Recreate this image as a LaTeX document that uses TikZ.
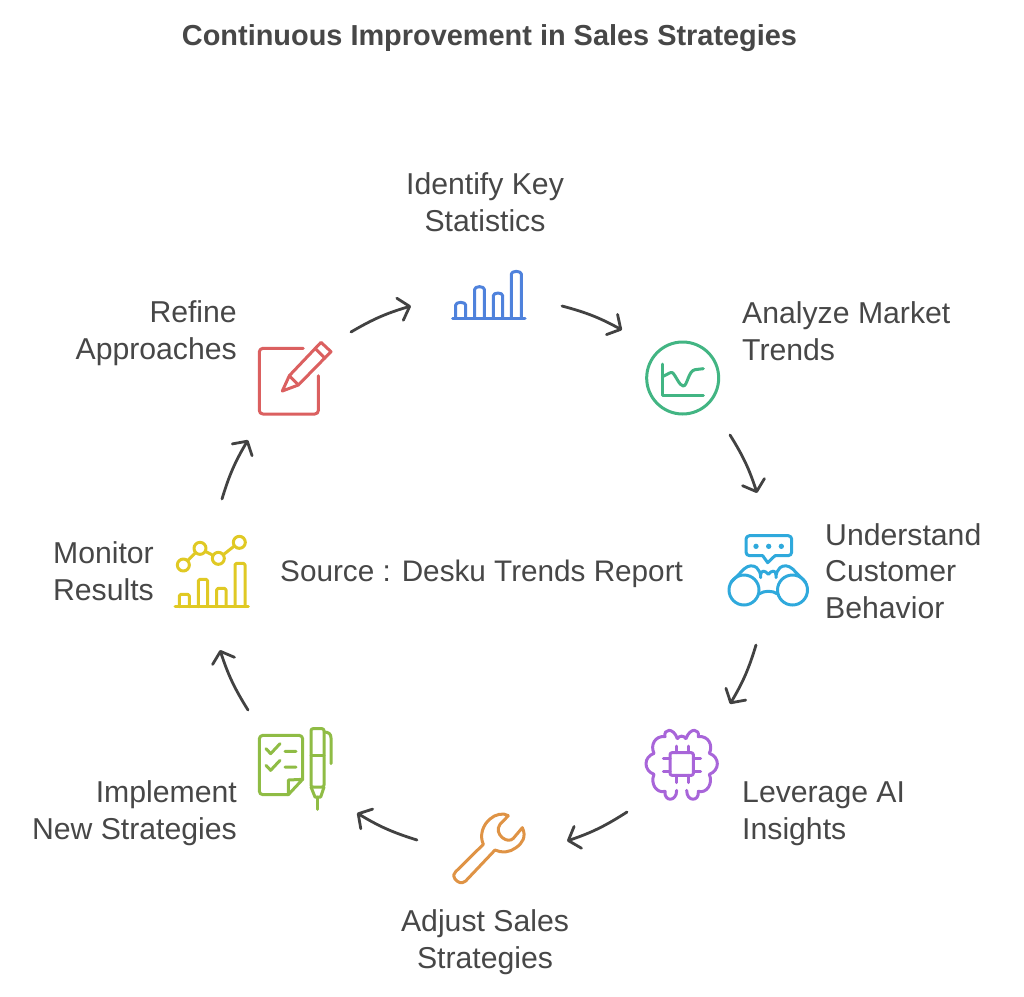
\documentclass[tikz,border=0pt]{standalone}
\usepackage{fontspec}
\setmainfont{Liberation Sans}
\usetikzlibrary{arrows.meta}
\definecolor{ink}{HTML}{474747}
\definecolor{arrowink}{HTML}{424242}
\definecolor{iblue}{HTML}{4F82DC}
\definecolor{igreen}{HTML}{42B583}
\definecolor{icyan}{HTML}{2FA9DC}
\definecolor{ipurple}{HTML}{A865D9}
\definecolor{iorange}{HTML}{DF9345}
\definecolor{ilime}{HTML}{8FBC45}
\definecolor{iyellow}{HTML}{E0C924}
\definecolor{ired}{HTML}{DB6060}
\tikzset{
  lab/.style={text=ink,inner sep=0pt,font=\fontsize{30.2}{36.8}\selectfont},
  srclab/.style={text=ink,inner sep=0pt,font=\fontsize{29.7}{36.8}\selectfont},
  ttl/.style={text=ink,inner sep=0pt,font=\fontsize{28.9}{34}\selectfont\bfseries},
  cyc/.style={draw=arrowink,line width=2.8pt,line cap=round,line join=round,
     -{Straight Barb[length=10pt,width=23pt,line width=2.8pt,round]}},
  ico/.style={line width=3pt,line cap=round,line join=round},
  zoomed/.style={x=0.33333pt,y=-0.33333pt}
}
\begin{document}
\begin{tikzpicture}[x=1pt,y=-1pt]
\useasboundingbox (0,0) rectangle (1024,996);
\node[ttl] (title) at (489.5,38.5) {Continuous Improvement in Sales Strategies};
\node[lab,align=center] (n1) at (485,202) {Identify Key\\Statistics};
\node[lab,align=left,anchor=west] (n2) at (742,331) {Analyze Market\\Trends};
\node[lab,align=left,anchor=west] (n3) at (825,571) {Understand\\Customer\\Behavior};
\node[lab,align=left,anchor=west] (n4) at (742,813.5) {Leverage AI\\Insights};
\node[lab,align=center] (n5) at (485,942) {Adjust Sales\\Strategies};
\node[lab,align=right,anchor=east] (n6) at (237,813.5) {Implement\\New Strategies};
\node[lab,align=right,anchor=east] (n7) at (154,571) {Monitor\\Results};
\node[lab,align=right,anchor=east] (n8) at (237,333.5) {Refine\\Approaches};
\node[srclab,anchor=west] (src) at (280,573.5) {Source : Desku Trends Report};
% connector ends
\coordinate (a1) at (562,306); \coordinate (b1) at (622,330);
\coordinate (a2) at (730,435); \coordinate (b2) at (757,493);
\coordinate (a3) at (756,645); \coordinate (b3) at (730,704);
\coordinate (a4) at (627,812); \coordinate (b4) at (567,841);
\coordinate (a5) at (417,840); \coordinate (b5) at (357,813);
\coordinate (a6) at (248,710); \coordinate (b6) at (220,650);
\coordinate (a7) at (222,499); \coordinate (b7) at (248,440);
\coordinate (a8) at (351,332); \coordinate (b8) at (411,306);
\foreach \i in {1,...,8}{\draw[cyc] (a\i) to[bend left=7] (b\i);}
% bars
\begin{scope}[shift={(440,260)},zoomed,ico,draw=iblue]
\draw (38,174)--(255,174);
\draw (47,174)--(47,135) arc[start angle=180,end angle=0,x radius=15,y radius=-8] --(77,174);
\draw (104,174)--(104,88) arc[start angle=180,end angle=0,x radius=14.5,y radius=-8] --(133,174);
\draw (160,174)--(160,107) arc[start angle=180,end angle=0,x radius=14,y radius=-8] --(188,174);
\draw (214,174)--(214,42) arc[start angle=180,end angle=0,x radius=15,y radius=-8] --(244,174);
\end{scope}
% chart
\begin{scope}[shift={(440,260)},zoomed,ico,draw=igreen]
\draw (728,354) circle[x radius=108,y radius=108];
\draw (667,312)--(667,405)--(790,405);
\draw (667,350)..controls (685,342) and (692,335)..(697,338)..controls (707,345) and (718,378)..(730,378)..controls (742,378) and (745,332)..(765,329)--(790,326);
\end{scope}
% binoculars
\begin{scope}[shift={(720,525)},zoomed,ico,draw=icyan]
\draw[rounded corners=3.5pt] (128,92)--(78,92)--(78,32)--(215,32)--(215,92)--(165,92);
\draw (128,92)--(143,113)--(165,92);
\fill[icyan] (108,64) circle[x radius=8,y radius=8] (146,64) circle[x radius=8,y radius=8] (184,64) circle[x radius=8,y radius=8];
\draw (72,195) circle[x radius=45,y radius=45];
\draw (217.5,195) circle[x radius=45,y radius=45];
\draw (117,207)..controls (132,196) and (158,196)..(173,207);
\draw (33,172)--(72,132)..controls (85,120) and (100,120)..(110,128)..controls (118,135) and (122,145)..(122,158);
\draw (257,172)--(218,132)..controls (205,120) and (190,120)..(180,128)..controls (172,135) and (168,145)..(168,158);
\draw (122,150)..controls (122,135) and (135,135)..(145,148)..controls (155,135) and (168,135)..(168,150);
\end{scope}
% brain
\begin{scope}[shift={(640,722)},zoomed,ico,draw=ipurple]
\draw[rounded corners=2pt] (90,92) rectangle (160,160);
\draw (110,72)--(110,92) (145,72)--(145,92) (110,160)--(110,182) (145,160)--(145,182);
\draw (70,110)--(90,110) (70,147)--(90,147) (160,110)--(182,110) (160,147)--(182,147);
\draw (112,50)..controls (100,15) and (70,20)..(75,44)
      ..controls (45,40) and (30,70)..(42,94)
      ..controls (10,105) and (10,145)..(42,157)
      ..controls (30,185) and (50,215)..(75,208)
      ..controls (72,240) and (110,240)..(110,205)
      (138,50)..controls (150,15) and (180,20)..(175,44)
      ..controls (205,40) and (220,70)..(208,94)
      ..controls (240,105) and (240,145)..(208,157)
      ..controls (220,185) and (200,215)..(175,208)
      ..controls (178,240) and (140,240)..(140,205)
      (112,50)..controls (118,40) and (132,40)..(138,50);
\end{scope}
% wrench
\begin{scope}[shift={(445,805)},zoomed,ico,draw=iorange]
\draw (190,32)--(165,58)..controls (155,72) and (160,88)..(172,98)..controls (185,108) and (197,108)..(205,100)
      --(232,68)..controls (245,95) and (232,115)..(213,128)..controls (195,142) and (170,145)..(150,135)
      --(62,228)..controls (50,238) and (38,232)..(30,222)..controls (24,212) and (26,205)..(32,200)
      --(115,118)..controls (102,90) and (115,58)..(135,42)..controls (150,28) and (175,22)..(190,32);
\end{scope}
% checklist & pen
\begin{scope}[shift={(250,722)},zoomed,ico,draw=ilime]
\draw[rounded corners=3.5pt] (115,218)--(28,218)--(28,40)--(158,40)--(158,172);
\draw (158,172)--(115,218)--(115,174)--(158,172);
\draw (48,80)--(62,95)--(90,65) (105,88)--(138,88);
\draw (48,130)--(62,145)--(90,115) (105,135)--(138,135);
\draw[rounded corners=2pt] (183,195)--(183,20)--(222,20)--(222,195)--cycle;
\draw (183,100)--(222,100);
\draw (222,30)..controls (235,30) and (243,35)..(243,48)--(243,125);
\draw (183,195)--(195,225)--(212,225)--(222,195);
\draw (203,225)--(203,262);
\end{scope}
% monitor
\begin{scope}[shift={(170,530)},zoomed,ico,draw=iyellow]
\draw (15,230)--(235,230);
\draw[rounded corners=1.5pt] (28,230)--(28,193)--(58,193)--(58,230);
\draw[rounded corners=1.5pt] (85,230)--(85,148)--(113,148)--(113,230);
\draw[rounded corners=1.5pt] (140,230)--(140,175)--(168,175)--(168,230);
\draw[rounded corners=1.5pt] (195,230)--(195,100)--(225,100)--(225,230);
\foreach \p in {(40,105),(90,55),(145,85),(208,37)}{\draw \p circle[x radius=18,y radius=18];}
\draw (53,92)--(77,68) (106,64)--(129,76) (160,74)--(193,48);
\end{scope}
% pencil note
\begin{scope}[shift={(250,335)},zoomed,ico,draw=ired]
\draw[rounded corners=3.5pt] (160,40)--(28,40)--(28,237)--(205,237)--(205,122);
\draw (97,168)--(118,122)--(213,22)--(243,50)--(145,150)--cycle;
\draw (118,122)--(145,150) (195,40)--(225,70);
\end{scope}
\end{tikzpicture}
\end{document}
